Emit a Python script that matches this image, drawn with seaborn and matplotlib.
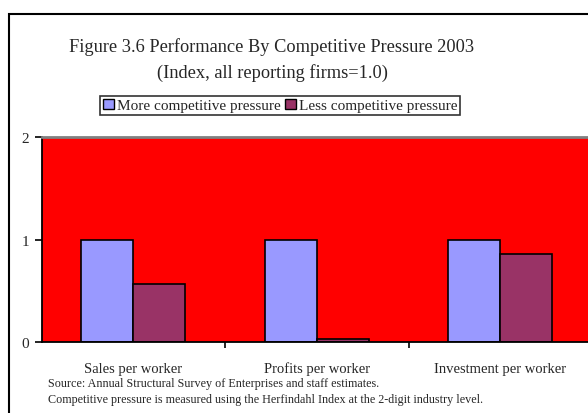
import matplotlib
matplotlib.use("Agg")
import matplotlib.pyplot as plt
import matplotlib.patches as mpatches
import pandas as pd
import seaborn as sns

# data
categories = ["Sales per worker", "Profits per worker", "Investment per worker"]
series_names = ["More competitive pressure", "Less competitive pressure"]
more_pressure = [1.0, 1.0, 1.0]
less_pressure = [0.57, 0.03, 0.86]
y_ticks = [0, 1, 2]

title_lines = ["Figure 3.6 Performance By Competitive Pressure 2003",
               "(Index, all reporting firms=1.0)"]
notes = ["Source: Annual Structural Survey of Enterprises and staff estimates.",
         "Competitive pressure is measured using the Herfindahl Index at the 2-digit industry level."]

colors = ["#9999FF", "#993366"]

df = pd.DataFrame({
    "category": categories * 2,
    "series": [series_names[0]] * 3 + [series_names[1]] * 3,
    "value": more_pressure + less_pressure,
})

sns.set_style("white")
plt.rcParams["font.family"] = ["Liberation Serif", "DejaVu Serif"]

W, H = 588, 414
fig = plt.figure(figsize=(W / 100, H / 100), dpi=100)
ax = fig.add_axes([41.5 / W, 1 - 343 / H, (592 - 41.5) / W, (343 - 138) / H])
ax.set_facecolor("#FF0000")

sns.barplot(data=df, x="category", y="value", hue="series", palette=colors,
            width=0.566, edgecolor="black", linewidth=1.2, saturation=1,
            ax=ax, legend=False)

ax.set_xlim(-0.5, 2.5)
ax.set_ylim(0, 2)
ax.set_yticks(y_ticks)
ax.set_xlabel("")
ax.set_ylabel("")

for side in ["left", "bottom"]:
    ax.spines[side].set_color("black")
    ax.spines[side].set_linewidth(1.3)
ax.spines["top"].set_color("#808080")
ax.spines["top"].set_linewidth(2)
ax.spines["right"].set_visible(False)

ax.tick_params(axis="y", direction="out", length=5, width=1.2, color="black",
               labelsize=11, pad=4, left=True)
ax.tick_params(axis="x", which="major", length=0, labelsize=10.5, pad=21.5)
for lbl in ax.get_xticklabels():
    lbl.set_verticalalignment("baseline")
ax.set_xticks([0.5, 1.5], minor=True)
ax.tick_params(axis="x", which="minor", direction="out", length=4, width=1.2,
               color="black", bottom=True)

# outer chart frame
fig.patches.append(mpatches.Rectangle((8.5 / W, -0.1), 1.2, 1.1 - 15 / H,
                                      transform=fig.transFigure, fill=False,
                                      edgecolor="black", linewidth=1.5))

fig.text(272 / W, 1 - 47 / H, title_lines[0], ha="center", va="center", fontsize=13.2)
fig.text(272 / W, 1 - 73 / H, title_lines[1], ha="center", va="center", fontsize=13.2)

handles = [mpatches.Patch(facecolor=c, edgecolor="black", linewidth=1) for c in colors]
leg = fig.legend(handles, series_names, loc="center", bbox_to_anchor=(280 / W, 1 - 106.5 / H),
                 ncol=2, fontsize=11, frameon=True, fancybox=False, edgecolor="black",
                 handlelength=0.7, handleheight=0.7, handletextpad=0.2, columnspacing=0.3,
                 borderpad=0.2, borderaxespad=0)
leg.get_frame().set_linewidth(1.2)

fig.text(48 / W, 1 - 384 / H, notes[0], ha="left", va="center", fontsize=8.7)
fig.text(48 / W, 1 - 400 / H, notes[1], ha="left", va="center", fontsize=8.7)

fig.savefig("out.png", dpi=100, facecolor="white")
